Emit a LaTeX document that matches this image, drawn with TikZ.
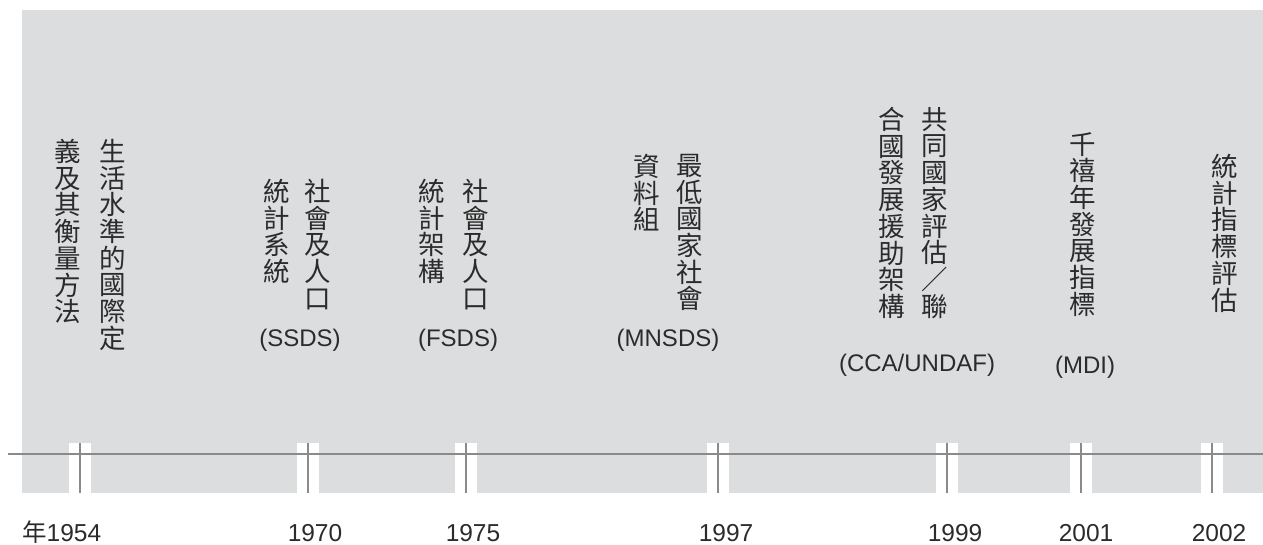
\documentclass[tikz,border=0pt]{standalone}
\usepackage{fontspec}
\setmainfont{Liberation Sans}
\newfontfamily\cjk{Noto Sans CJK TC}
\definecolor{panelgray}{HTML}{DCDDDF}
\definecolor{linegray}{HTML}{8A8A8A}
\definecolor{inkgray}{HTML}{2B2B2B}
\tikzset{
  vcol/.style={anchor=north, inner sep=0pt, align=center, text=inkgray,
    font=\fontsize{26.5}{26.7}\selectfont\cjk},
  abbr/.style={inner sep=0pt, text=inkgray, font=\fontsize{24}{28}\selectfont},
  yearlbl/.style={anchor=base, inner sep=0pt, text depth=0pt, text=inkgray,
    font=\fontsize{24.5}{28}\selectfont},
}
\begin{document}
\begin{tikzpicture}[x=1pt,y=-1pt]
\useasboundingbox (0,0) rectangle (1263,544);
\fill[panelgray] (22,10) rectangle (1263,493);
% time axis
\coordinate (axisL) at (8,454);
\coordinate (axisR) at (1263,454);
\foreach \x/\n in {80/y54,308/y70,466/y75,718/y97,947/y99,1081/y01,1212/y02}
  \fill[white] (\x-11,443) rectangle (\x+11,493);
\draw[linegray, line width=1.6pt] (axisL) -- (axisR);
\foreach \x/\n in {80/y54,308/y70,466/y75,718/y97,947/y99,1081/y01,1212/y02}{
  \coordinate (\n top) at (\x,443);
  \coordinate (\n bot) at (\x,493);
  \draw[linegray, line width=1.5pt] (\n top) -- (\n bot);
}
% 1954
\node[vcol] (c54a) at (113,139) {生\\活\\水\\準\\的\\國\\際\\定};
\node[vcol] (c54b) at (68,139) {義\\及\\其\\衡\\量\\方\\法};
% 1970
\node[vcol] (c70a) at (318,179) {社\\會\\及\\人\\口};
\node[vcol] (c70b) at (277,179) {統\\計\\系\\統};
\node[abbr] (ab70) at (300,340) {(SSDS)};
% 1975
\node[vcol] (c75a) at (476,179) {社\\會\\及\\人\\口};
\node[vcol] (c75b) at (432,179) {統\\計\\架\\構};
\node[abbr] (ab75) at (458,340) {(FSDS)};
% 1997
\node[vcol] (c97a) at (690,154) {最\\低\\國\\家\\社\\會};
\node[vcol] (c97b) at (647,154) {資\\料\\組};
\node[abbr] (ab97) at (668,340) {(MNSDS)};
% 1999
\node[vcol] (c99a) at (935,107) {共\\同\\國\\家\\評\\估\\／\\聯};
\node[vcol] (c99b) at (892,107) {合\\國\\發\\展\\援\\助\\架\\構};
\node[abbr] (ab99) at (917,365) {(CCA/UNDAF)};
% 2001
\node[vcol] (c01a) at (1083,132) {千\\禧\\年\\發\\展\\指\\標};
\node[abbr] (ab01) at (1085,367) {(MDI)};
% 2002
\node[vcol] (c02a) at (1225,154) {統\\計\\指\\標\\評\\估};
% years
\node[yearlbl, anchor=base west] (t54) at (22,541) {{\cjk 年}1954};
\node[yearlbl] (t70) at (315,541) {1970};
\node[yearlbl] (t75) at (473,541) {1975};
\node[yearlbl] (t97) at (726,541) {1997};
\node[yearlbl] (t99) at (955,541) {1999};
\node[yearlbl] (t01) at (1086,541) {2001};
\node[yearlbl] (t02) at (1219,541) {2002};
\end{tikzpicture}
\end{document}
